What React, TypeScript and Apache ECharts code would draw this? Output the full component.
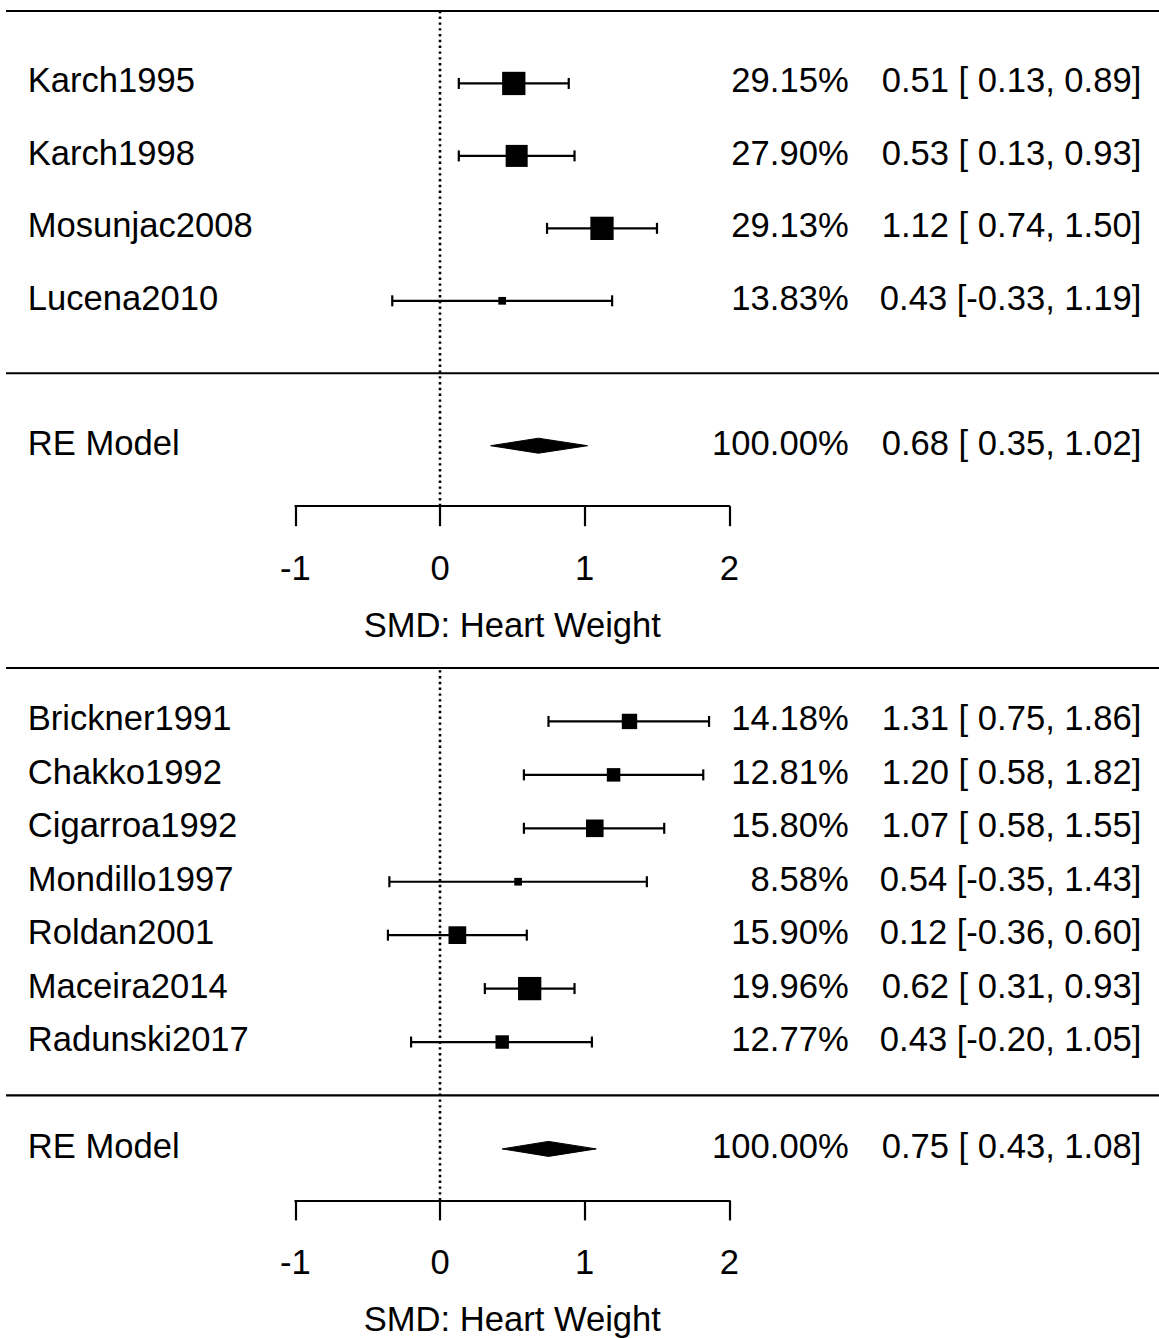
import React, { useEffect, useRef } from "react";
import * as echarts from "echarts";

// ---------- data ----------
const studiesA = ["Karch1995", "Karch1998", "Mosunjac2008", "Lucena2010"];
const estA = [0.51, 0.53, 1.12, 0.43];
const lowA = [0.13, 0.13, 0.74, -0.33];
const highA = [0.89, 0.93, 1.5, 1.19];
const weightA = [29.15, 27.9, 29.13, 13.83];
const reA = [0.68, 0.35, 1.02]; // est, low, high

const studiesB = [
  "Brickner1991",
  "Chakko1992",
  "Cigarroa1992",
  "Mondillo1997",
  "Roldan2001",
  "Maceira2014",
  "Radunski2017",
];
const estB = [1.31, 1.2, 1.07, 0.54, 0.12, 0.62, 0.43];
const lowB = [0.75, 0.58, 0.58, -0.35, -0.36, 0.31, -0.2];
const highB = [1.86, 1.82, 1.55, 1.43, 0.6, 0.93, 1.05];
const weightB = [14.18, 12.81, 15.8, 8.58, 15.9, 19.96, 12.77];
const reB = [0.75, 0.43, 1.08];

const modelLabel = "RE Model";
const modelWeight = 100;
const xTicks = [-1, 0, 1, 2];
const axisTitle = "SMD: Heart Weight";

// ---------- layout constants ----------
const FONT = '"Liberation Sans", Arial, Helvetica, sans-serif';
const FS = 34.6;
const NAME_X = -2.85; // data x of left-aligned study labels
const WEIGHT_X = 2.825; // data x of right edge of weight column
const CI_X = 4.848; // data x of right edge of estimate column
const RULE_X0 = -3;
const RULE_X1 = 5.2;
const TEXT_DY = -3;
const SQ_MIN = 7.7;
const SQ_MAX = 23.3;
const DIAMOND_HALF = 7.5;
const CAP_HALF = 5.5;
const LW = 2.2;

const panels = [
  {
    studies: studiesA, est: estA, low: lowA, high: highA, weight: weightA, re: reA,
    top: 11, height: 495.2, ymin: -1.835,
  },
  {
    studies: studiesB, est: estB, low: lowB, high: highB, weight: weightB, re: reB,
    top: 668, height: 532.4, ymin: -1.964,
  },
];

const fmt = (v: number) => v.toFixed(2);
const fmtLow = (v: number) => (v < 0 ? v.toFixed(2) : " " + v.toFixed(2));
const ciText = (e: number, l: number, h: number) => `${fmt(e)} [${fmtLow(l)}, ${fmt(h)}]`;

function buildOption() {
  const grid: any[] = [];
  const xAxis: any[] = [];
  const yAxis: any[] = [];
  const series: any[] = [];

  panels.forEach((p, pi) => {
    const k = p.studies.length;
    const ymax = k + 1;
    grid.push({ left: 295.35, width: 433.95, top: p.top, height: p.height, outerBoundsMode: "none" });
    xAxis.push({
      type: "value",
      gridIndex: pi,
      min: xTicks[0],
      max: xTicks[xTicks.length - 1],
      interval: 1,
      axisLine: { show: true, onZero: false, lineStyle: { color: "#000", width: LW } },
      axisTick: { show: true, inside: false, length: 20, lineStyle: { color: "#000", width: LW } },
      axisLabel: {
        show: true, margin: 44, fontSize: FS, fontFamily: FONT, color: "#000",
        showMinLabel: true, showMaxLabel: true,
      },
      splitLine: { show: false },
      name: axisTitle,
      nameLocation: "middle",
      nameGap: 101,
      nameTextStyle: { fontSize: FS, fontFamily: FONT, color: "#000" },
    });
    yAxis.push({ type: "value", gridIndex: pi, min: p.ymin, max: ymax, show: false });

    const rows = p.studies.map((_, i) => k - i);
    const wMin = Math.min(...p.weight);
    const wMax = Math.max(...p.weight);

    // horizontal rules (top and separator)
    series.push({
      type: "custom", xAxisIndex: pi, yAxisIndex: pi, clip: false, silent: true,
      data: [[RULE_X0, RULE_X1, ymax], [RULE_X0, RULE_X1, 0]],
      renderItem: (params: any, api: any) => {
        const a = api.coord([api.value(0), api.value(2)]);
        const b = api.coord([api.value(1), api.value(2)]);
        return {
          type: "line",
          shape: { x1: a[0], y1: a[1], x2: b[0], y2: b[1] },
          style: { stroke: "#000", lineWidth: LW },
        };
      },
    });

    // dotted reference line at 0
    series.push({
      type: "custom", xAxisIndex: pi, yAxisIndex: pi, clip: false, silent: true,
      data: [[0, p.ymin, ymax]],
      renderItem: (params: any, api: any) => {
        const a = api.coord([api.value(0), api.value(1)]);
        const b = api.coord([api.value(0), api.value(2)]);
        return {
          type: "line",
          shape: { x1: a[0], y1: a[1], x2: b[0], y2: b[1] },
          style: { stroke: "#000", lineWidth: 2.6, lineDash: [2.4, 3.4] },
        };
      },
    });

    // whiskers with caps
    series.push({
      type: "custom", xAxisIndex: pi, yAxisIndex: pi, clip: false, silent: true,
      data: p.studies.map((_, i) => [p.low[i], p.high[i], rows[i]]),
      renderItem: (params: any, api: any) => {
        const a = api.coord([api.value(0), api.value(2)]);
        const b = api.coord([api.value(1), api.value(2)]);
        const st = { stroke: "#000", lineWidth: LW };
        return {
          type: "group",
          children: [
            { type: "line", shape: { x1: a[0], y1: a[1], x2: b[0], y2: b[1] }, style: st },
            { type: "line", shape: { x1: a[0], y1: a[1] - CAP_HALF, x2: a[0], y2: a[1] + CAP_HALF }, style: st },
            { type: "line", shape: { x1: b[0], y1: b[1] - CAP_HALF, x2: b[0], y2: b[1] + CAP_HALF }, style: st },
          ],
        };
      },
    });

    // squares
    series.push({
      type: "scatter", xAxisIndex: pi, yAxisIndex: pi, silent: true,
      symbol: "rect",
      itemStyle: { color: "#000", opacity: 1 },
      data: p.studies.map((_, i) => [p.est[i], rows[i], p.weight[i]]),
      symbolSize: (val: number[]) => SQ_MIN + ((val[2] - wMin) / (wMax - wMin)) * (SQ_MAX - SQ_MIN),
    });

    // summary diamond
    series.push({
      type: "custom", xAxisIndex: pi, yAxisIndex: pi, clip: false, silent: true,
      data: [[p.re[0], p.re[1], p.re[2], -1]],
      renderItem: (params: any, api: any) => {
        const y = api.value(3);
        const c = api.coord([api.value(0), y]);
        const l = api.coord([api.value(1), y]);
        const h = api.coord([api.value(2), y]);
        return {
          type: "polygon",
          shape: { points: [[l[0], l[1]], [c[0], c[1] - DIAMOND_HALF], [h[0], h[1]], [c[0], c[1] + DIAMOND_HALF]] },
          style: { fill: "#000", stroke: "#000", lineWidth: 1 },
        };
      },
    });

    // text columns
    const labels = [...p.studies, modelLabel];
    const weights = [...p.weight, modelWeight];
    const ests = [...p.est, p.re[0]];
    const lows = [...p.low, p.re[1]];
    const highs = [...p.high, p.re[2]];
    const textRows = [...rows, -1];
    series.push({
      type: "custom", xAxisIndex: pi, yAxisIndex: pi, clip: false, silent: true,
      data: textRows.map((r) => [0, r]),
      renderItem: (params: any, api: any) => {
        const i = params.dataIndex;
        const r = api.value(1);
        const pn = api.coord([NAME_X, r]);
        const pw = api.coord([WEIGHT_X, r]);
        const pc = api.coord([CI_X, r]);
        const base = { fill: "#000", fontSize: FS, fontFamily: FONT, verticalAlign: "middle" };
        return {
          type: "group",
          children: [
            { type: "text", x: pn[0], y: pn[1] + TEXT_DY, style: { ...base, text: labels[i], align: "left" } },
            { type: "text", x: pw[0], y: pw[1] + TEXT_DY, style: { ...base, text: fmt(weights[i]) + "%", align: "right" } },
            { type: "text", x: pc[0], y: pc[1] + TEXT_DY, style: { ...base, text: ciText(ests[i], lows[i], highs[i]), align: "right" } },
          ],
        };
      },
    });
  });

  return {
    animation: false,
    backgroundColor: "#fff",
    grid,
    xAxis,
    yAxis,
    series,
  };
}

export default function App() {
  const ref = useRef<HTMLDivElement>(null);
  useEffect(() => {
    if (!ref.current) return;
    const chart = echarts.init(ref.current, undefined, { renderer: "svg" });
    chart.setOption(buildOption() as any);
    return () => chart.dispose();
  }, []);
  return (
    <div
      ref={ref}
      style={{ position: "absolute", left: 0, top: 0, width: 1159, height: 1338, background: "#fff" }}
    />
  );
}
